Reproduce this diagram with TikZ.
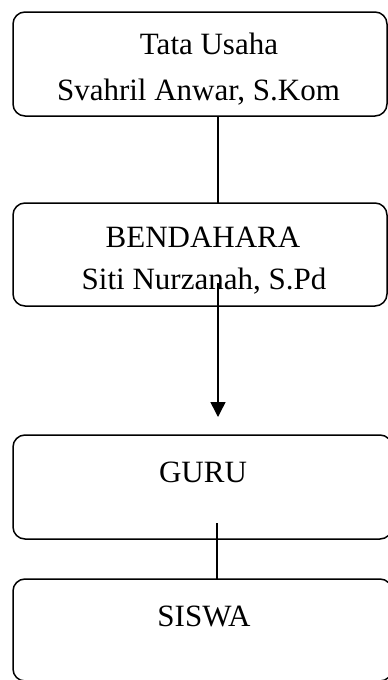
\documentclass[tikz,border=0pt]{standalone}
\usepackage{fontspec}
\setmainfont{Liberation Serif}
\usetikzlibrary{arrows.meta}
\begin{document}
\begin{tikzpicture}[x=1pt,y=-1pt,
  box/.style={draw, line width=1.5pt, rounded corners=12pt, inner sep=0pt, outer sep=0pt, anchor=north west},
  lbl/.style={font=\fontsize{31}{37}\selectfont, inner sep=0pt, anchor=base},
  conn/.style={line width=1.5pt}]
\useasboundingbox (0,0) rectangle (388,680);
\node[box, minimum width=374pt, minimum height=104pt] (b1) at (13,12) {};
\node[box, minimum width=374pt, minimum height=103pt] (b2) at (13,203) {};
\node[box, minimum width=379pt, minimum height=104pt] (b3) at (13,435) {};
\node[box, minimum width=379pt, minimum height=102pt] (b4) at (13,579) {};
\node[lbl] (t1a) at (209,54) {Tata Usaha};
\node[lbl] (t1b) at (198.5,100) {Svahril Anwar, S.Kom};
\node[lbl] (t2a) at (203,247) {BENDAHARA};
\node[lbl] (t2b) at (204,289) {Siti Nurzanah, S.Pd};
\node[lbl] (t3) at (203,482) {GURU};
\node[lbl] (t4) at (204,626) {SISWA};
\coordinate (axis) at (218,0);
\coordinate (a1) at (218,283);
\coordinate (a2) at (218,417);
\coordinate (g1) at (217,523);
\draw[conn] (axis |- b1.south) -- (axis |- b2.north);
\draw[conn, -{Triangle[width=15pt,length=15pt]}] (a1) -- (a2);
\draw[conn] (g1) -- (g1 |- b4.north);
\end{tikzpicture}
\end{document}
